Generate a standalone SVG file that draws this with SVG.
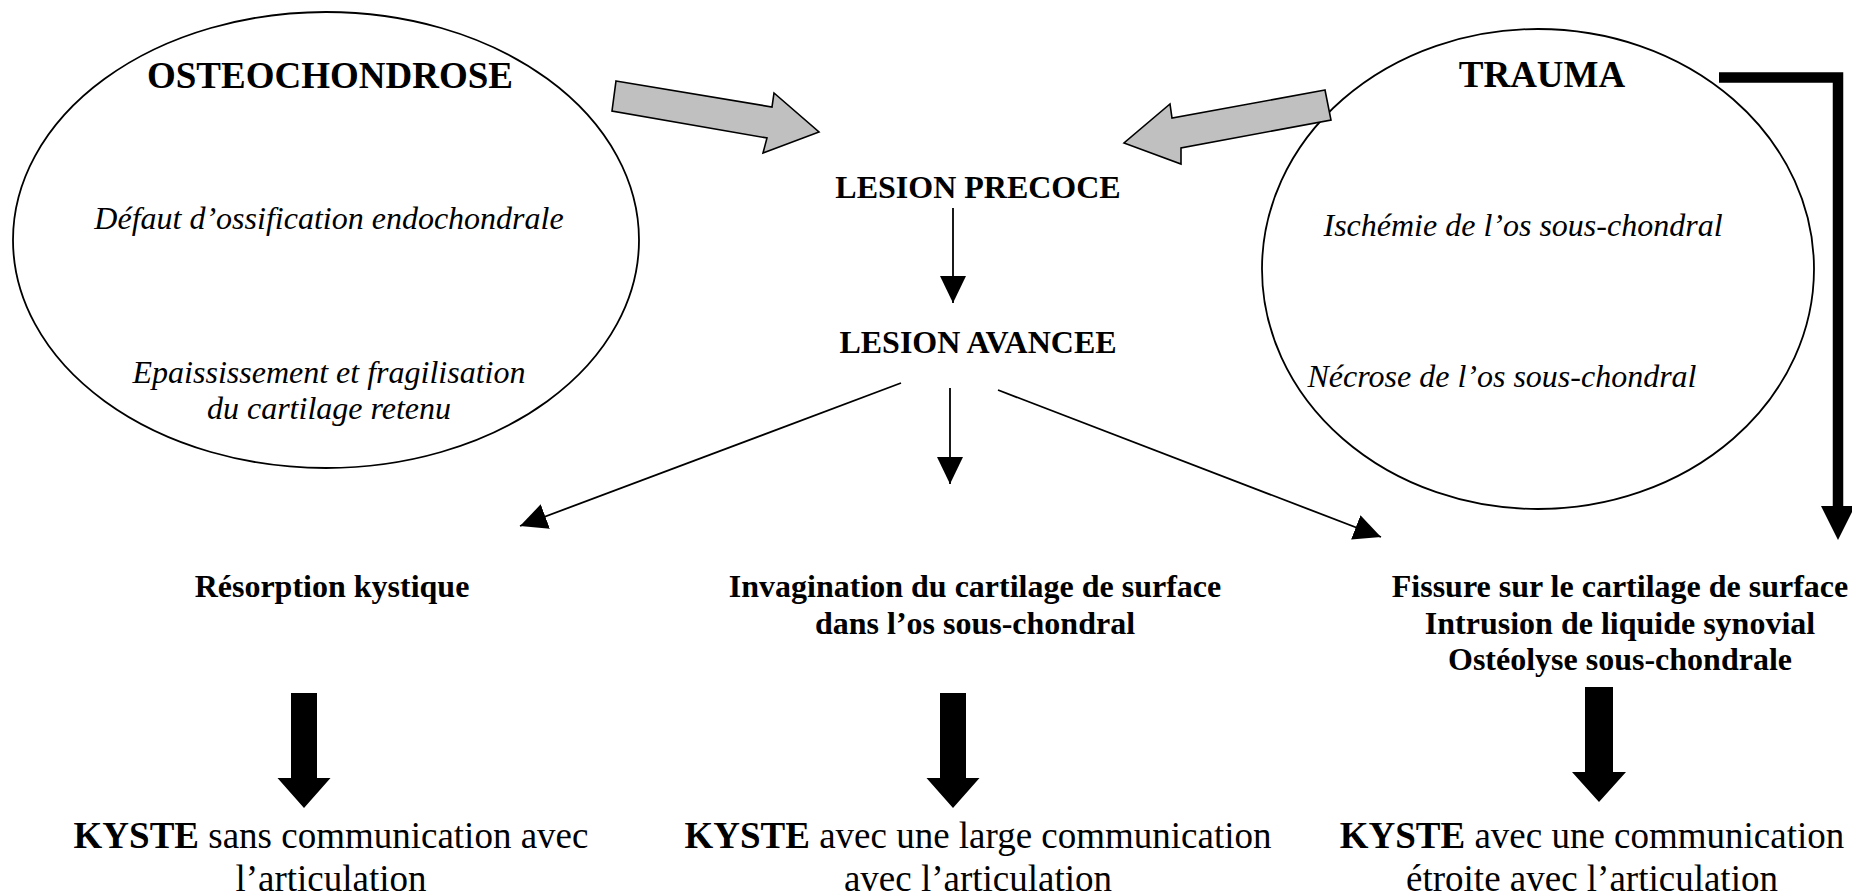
<svg xmlns="http://www.w3.org/2000/svg" width="1852" height="896" viewBox="0 0 1852 896">
<style>
text{font-family:"Liberation Serif","Times New Roman",serif;fill:#000}
.title{font-size:37px;font-weight:bold}
.bold{font-size:32px;font-weight:bold}
.it{font-size:32px;font-style:italic}
.reg{font-size:37px}
.oval{fill:none;stroke:#000;stroke-width:1.8}
.thin{fill:none;stroke:#000;stroke-width:1.8}
.gray{fill:#c0c0c0;stroke:#000;stroke-width:1.6;stroke-linejoin:miter}
.fat{fill:#000;stroke:none}
</style>
<defs>
<marker id="ah" markerUnits="userSpaceOnUse" markerWidth="28" markerHeight="26" refX="27" refY="13" orient="auto">
<path d="M0,0 L27,13 L0,26 z" fill="#000"/>
</marker>
</defs>
<rect width="1852" height="896" fill="#fff"/>

<g id="osteochondrose">
<ellipse class="oval" cx="326" cy="240" rx="313" ry="228"/>
<text class="title" x="330" y="88" text-anchor="middle">OSTEOCHONDROSE</text>
<text class="it" x="329" y="229" text-anchor="middle">Défaut d’ossification endochondrale</text>
<text class="it" x="329" y="383" text-anchor="middle">Epaississement et fragilisation</text>
<text class="it" x="329" y="419" text-anchor="middle">du cartilage retenu</text>
</g>

<g id="trauma">
<ellipse class="oval" cx="1538" cy="269" rx="276" ry="240"/>
<text class="title" x="1542" y="87" text-anchor="middle">TRAUMA</text>
<text class="it" x="1523" y="236" text-anchor="middle">Ischémie de l’os sous-chondral</text>
<text class="it" x="1502" y="387" text-anchor="middle">Nécrose de l’os sous-chondral</text>
</g>

<g id="lesion-precoce">
<text class="bold" x="978" y="198" text-anchor="middle">LESION PRECOCE</text>
</g>
<g id="lesion-avancee">
<text class="bold" x="978" y="353" text-anchor="middle">LESION AVANCEE</text>
</g>

<g id="resorption">
<text class="bold" x="332" y="597" text-anchor="middle">Résorption kystique</text>
</g>
<g id="invagination">
<text class="bold" x="975" y="597" text-anchor="middle">Invagination du cartilage de surface</text>
<text class="bold" x="975" y="634" text-anchor="middle">dans l’os sous-chondral</text>
</g>
<g id="fissure">
<text class="bold" x="1620" y="597" text-anchor="middle">Fissure sur le cartilage de surface</text>
<text class="bold" x="1620" y="634" text-anchor="middle">Intrusion de liquide synovial</text>
<text class="bold" x="1620" y="670" text-anchor="middle">Ostéolyse sous-chondrale</text>
</g>

<g id="kyste-sans">
<text class="reg" x="331" y="848" text-anchor="middle"><tspan font-weight="bold">KYSTE</tspan> sans communication avec</text>
<text class="reg" x="331" y="891" text-anchor="middle">l’articulation</text>
</g>
<g id="kyste-large">
<text class="reg" x="978" y="848" text-anchor="middle"><tspan font-weight="bold">KYSTE</tspan> avec une large communication</text>
<text class="reg" x="978" y="891" text-anchor="middle">avec l’articulation</text>
</g>
<g id="kyste-etroite">
<text class="reg" x="1592" y="848" text-anchor="middle"><tspan font-weight="bold">KYSTE</tspan> avec une communication</text>
<text class="reg" x="1592" y="891" text-anchor="middle">étroite avec l’articulation</text>
</g>

<g id="connectors">
<polygon class="gray" points="616,81 772,107 774,93 819,132 763,153 767,138 612,111"/>
<polygon class="gray" points="1325,90 1172,118 1170,104 1124,143 1181,164 1181,148 1331,120"/>
<line class="thin" x1="953" y1="208" x2="953" y2="303" marker-end="url(#ah)"/>
<line class="thin" x1="950" y1="388" x2="950" y2="484" marker-end="url(#ah)"/>
<line class="thin" x1="901" y1="383" x2="520" y2="526" marker-end="url(#ah)"/>
<line class="thin" x1="998" y1="390" x2="1381" y2="537" marker-end="url(#ah)"/>
<path class="fat" d="M291,693 H317 V778 H330.5 L304,808 L277.5,778 H291 Z"/>
<path class="fat" d="M940,693 H966 V778 H979.5 L953,808 L926.5,778 H940 Z"/>
<path class="fat" d="M1585,687 H1613 V772 H1626 L1599,802 L1572,772 H1585 Z"/>
<path d="M1719,77.5 H1838 V508" fill="none" stroke="#000" stroke-width="10.5"/>
<path class="fat" d="M1821,506 H1855 L1838,540 Z"/>
</g>
</svg>
